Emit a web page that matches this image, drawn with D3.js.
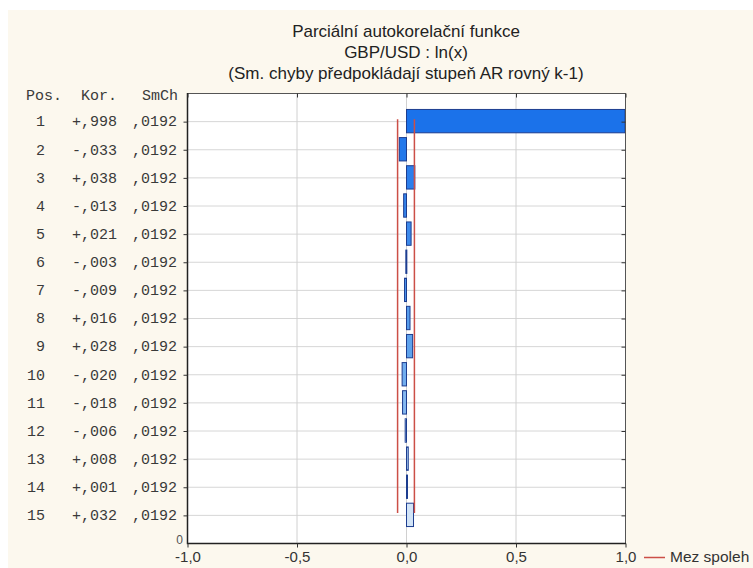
<!DOCTYPE html>
<html>
<head>
<meta charset="utf-8">
<script src="https://cdn.jsdelivr.net/npm/d3@7"></script>
<style>
  html, body { margin: 0; padding: 0; background: #ffffff; }
  svg { display: block; }
</style>
</head>
<body>
<script>
// Partial autocorrelation function of ln(GBP/USD), lags 1..15
const lags = [1, 2, 3, 4, 5, 6, 7, 8, 9, 10, 11, 12, 13, 14, 15];
const pacf = [0.998, -0.033, 0.038, -0.013, 0.021, -0.003, -0.009, 0.016, 0.028, -0.020, -0.018, -0.006, 0.008, 0.001, 0.032];
const stdErr = [0.0192, 0.0192, 0.0192, 0.0192, 0.0192, 0.0192, 0.0192, 0.0192, 0.0192, 0.0192, 0.0192, 0.0192, 0.0192, 0.0192, 0.0192];
const xTicks = [-1, -0.5, 0, 0.5, 1];
const xTickLabels = ["-1,0", "-0,5", "0,0", "0,5", "1,0"];
const titleLines = ["Parciální autokorelační funkce", "GBP/USD : ln(x)", "(Sm. chyby předpokládají stupeň AR rovný k-1)"];
const tableHeader = ["Pos.", "Kor.", "SmCh"];
const legendLabel = "Mez spoleh";

const W = 753, H = 568;
const plot = { left: 187, right: 625, top: 93, bottom: 543 };
const sans = "Liberation Sans, Arial, sans-serif";
const mono = "Liberation Mono, Courier New, monospace";

const svg = d3.select("body").append("svg")
  .attr("width", W).attr("height", H);

// page background
svg.append("rect").attr("x", 8).attr("y", 10).attr("width", W - 8).attr("height", H - 10)
  .attr("fill", "#fcf8ee");

const x = d3.scaleLinear().domain([-1, 1]).range([plot.left, plot.right]);
const y = d3.scaleLinear().domain([0, 16]).range([plot.top, plot.bottom]);
const barH = (y(1) - y(0)) * 0.83;
const fillScale = d3.scaleLinear().domain([1, 9, 15])
  .range(["#1b72ea", "#5ea2ec", "#d2e4f7"]);

// plot area
svg.append("rect")
  .attr("x", plot.left).attr("y", plot.top)
  .attr("width", plot.right - plot.left).attr("height", plot.bottom - plot.top)
  .attr("fill", "#ffffff");

// grid
svg.append("g").selectAll("line").data(lags).join("line")
  .attr("x1", plot.left).attr("x2", plot.right)
  .attr("y1", d => y(d) + 0.5).attr("y2", d => y(d) + 0.5)
  .attr("stroke", "#d6d6d6").attr("stroke-width", 1);
svg.append("g").selectAll("line").data(xTicks.slice(1, -1)).join("line")
  .attr("x1", d => x(d) + 0.5).attr("x2", d => x(d) + 0.5)
  .attr("y1", plot.top).attr("y2", plot.bottom)
  .attr("stroke", "#d0d0d0").attr("stroke-width", 1);

// bars
const rows = lags.map((k, i) => ({ k, r: pacf[i], se: stdErr[i] }));
svg.append("g").selectAll("rect").data(rows).join("rect")
  .attr("x", d => Math.min(x(0), x(d.r)) + 0.5)
  .attr("y", d => y(d.k) - barH / 2)
  .attr("width", d => Math.max(1, Math.abs(x(d.r) - x(0))))
  .attr("height", barH)
  .attr("fill", d => fillScale(d.k))
  .attr("stroke", "#1d3d8f").attr("stroke-width", 1);

// confidence limits (±2 standard errors)
const limitLine = d3.line().x(d => d[0]).y(d => d[1]);
[-1, 1].forEach(s => {
  svg.append("path")
    .attr("d", limitLine(rows.map(d => [x(s * 2 * d.se), y(d.k) - 2])))
    .attr("fill", "none").attr("stroke", "#cc4f47").attr("stroke-width", 1.5);
});

// frame
svg.append("rect")
  .attr("x", plot.left + 0.5).attr("y", plot.top + 0.5)
  .attr("width", plot.right - plot.left).attr("height", plot.bottom - plot.top)
  .attr("fill", "none").attr("stroke", "#555").attr("stroke-width", 1);
svg.append("path")
  .attr("d", `M${plot.left + 0.5},${plot.top} V${plot.bottom + 0.5} H${plot.right + 1}`)
  .attr("fill", "none").attr("stroke", "#222").attr("stroke-width", 1.5);

// axes
const xAxis = svg.append("g").attr("transform", `translate(0.5,${plot.bottom + 0.5})`)
  .call(d3.axisBottom(x).tickValues(xTicks).tickFormat((d, i) => xTickLabels[i]).tickSize(4).tickPadding(4));
xAxis.select(".domain").remove();
xAxis.selectAll("line").attr("stroke", "#333");
xAxis.selectAll("text").attr("font-family", sans)
  .attr("font-size", 15).attr("fill", "#333");

const xTop = svg.append("g").attr("transform", `translate(0.5,${plot.top + 0.5})`)
  .call(d3.axisBottom(x).tickValues(xTicks).tickFormat("").tickSize(4));
xTop.select(".domain").remove();
xTop.selectAll("line").attr("stroke", "#333");

const yAxis = svg.append("g").attr("transform", `translate(${plot.left + 0.5},0.5)`)
  .call(d3.axisLeft(y).tickValues(lags).tickFormat("").tickSize(4));
yAxis.select(".domain").remove();
yAxis.selectAll("line").attr("stroke", "#333");

const yRight = svg.append("g").attr("transform", `translate(${plot.right + 0.5},0.5)`)
  .call(d3.axisLeft(y).tickValues(lags).tickFormat("").tickSize(4));
yRight.select(".domain").remove();
yRight.selectAll("line").attr("stroke", "#333");

// bottom value label of the lag axis
svg.append("text").attr("x", 183).attr("y", y(16) - 3).attr("dy", "0.35em")
  .attr("text-anchor", "end")
  .attr("font-family", sans).attr("font-size", 12)
  .attr("fill", "#555").text("0");

// titles
svg.append("g").selectAll("text").data(titleLines).join("text")
  .attr("x", x(0)).attr("y", (d, i) => 31 + i * 21).attr("dy", "0.35em")
  .attr("text-anchor", "middle")
  .attr("font-family", sans).attr("font-size", 17)
  .attr("fill", "#222").text(d => d);

// value table
const fmtR = v => (v < 0 ? "-" : "+") + "," + d3.format("03d")(Math.round(Math.abs(v) * 1000));
const fmtSe = v => "," + d3.format("04d")(Math.round(v * 10000));
const headX = [26, 81, 142];
svg.append("g").selectAll("text").data(tableHeader).join("text")
  .attr("x", (d, i) => headX[i]).attr("y", 95).attr("dy", "0.35em")
  .attr("font-family", mono).attr("font-size", 15).attr("fill", "#3a3a3a")
  .text(d => d);

const tbl = svg.append("g").attr("font-family", mono).attr("font-size", 15).attr("fill", "#3a3a3a");
tbl.selectAll(".pos").data(rows).join("text").attr("class", "pos")
  .attr("x", 45).attr("y", d => y(d.k)).attr("dy", "0.35em").attr("text-anchor", "end")
  .text(d => d.k);
tbl.selectAll(".kor").data(rows).join("text").attr("class", "kor")
  .attr("x", 72).attr("y", d => y(d.k)).attr("dy", "0.35em")
  .text(d => fmtR(d.r));
tbl.selectAll(".se").data(rows).join("text").attr("class", "se")
  .attr("x", 132).attr("y", d => y(d.k)).attr("dy", "0.35em")
  .text(d => fmtSe(d.se));

// legend
svg.append("line").attr("x1", 644).attr("x2", 665).attr("y1", 557.5).attr("y2", 557.5)
  .attr("stroke", "#cc4f47").attr("stroke-width", 1.5);
svg.append("text").attr("x", 670).attr("y", 557).attr("dy", "0.35em")
  .attr("font-family", sans).attr("font-size", 15.5)
  .attr("fill", "#333").text(legendLabel);
</script>
</body>
</html>
